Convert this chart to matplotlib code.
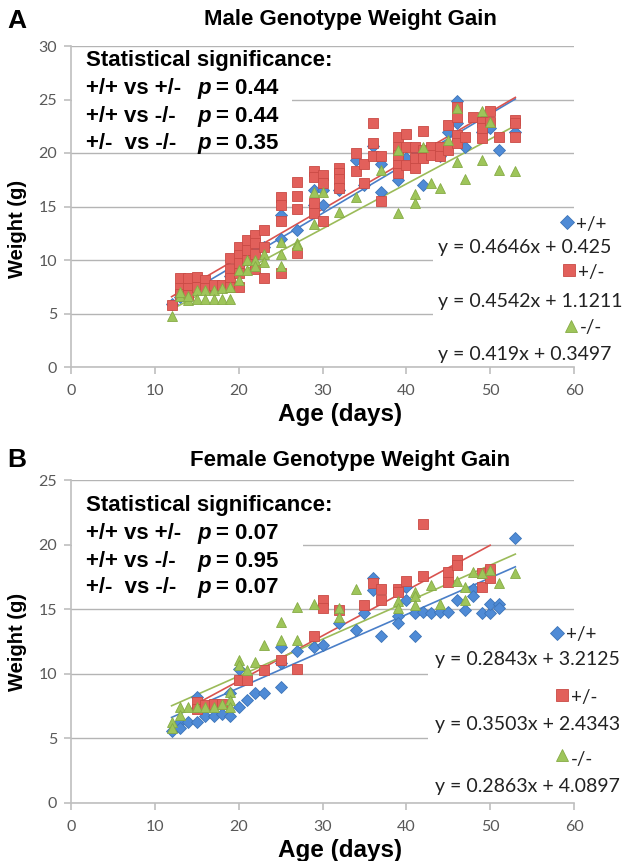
import matplotlib
matplotlib.use('Agg')
import matplotlib.pyplot as plt
from matplotlib.patches import Rectangle
from matplotlib.lines import Line2D

W, H = 629, 861

# ---------------- data ----------------
genotypes = ['+/+', '+/-', '-/-']
comparisons = ['+/+ vs +/-', '+/+ vs -/-', '+/-  vs -/-']
male_p = ['0.44', '0.44', '0.35']
female_p = ['0.07', '0.95', '0.07']

male_slopes = [0.4646, 0.4542, 0.419]
male_intercepts = [0.425, 1.1211, 0.3497]
female_slopes = [0.2843, 0.3503, 0.2863]
female_intercepts = [3.2125, 2.4343, 4.0897]

male_wt = [(12, 5.9), (13, 6.5), (14, 6.8), (15, 7.2), (16, 7.3), (17, 7.3), (18, 7.5),
           (19, 8.5), (20, 9.5), (21, 11.2), (22, 10.8), (23, 11.2), (25, 14.2), (25, 12.0),
           (27, 12.8), (29, 16.5), (29, 15.1), (30, 16.5), (30, 15.1), (32, 16.5), (34, 19.3),
           (35, 17.0), (36, 20.7), (37, 19.0), (37, 16.4), (39, 17.5), (40, 19.5), (41, 20.3),
           (42, 17.0), (44, 19.7), (45, 22.0), (46, 24.9), (46, 22.8), (47, 20.6), (49, 22.0),
           (50, 22.3), (51, 20.3), (53, 22.0)]
male_het = [(12, 5.8), (13, 8.3), (13, 7.4), (13, 6.8), (14, 8.3), (14, 7.4), (14, 6.7),
            (15, 8.4), (15, 7.5), (16, 8.1), (16, 7.4), (17, 7.7), (18, 7.7),
            (19, 10.2), (19, 9.2), (19, 8.3), (19, 7.5), (20, 11.2), (20, 10.5), (20, 9.7),
            (20, 8.8), (20, 7.5), (21, 11.9), (21, 10.9), (21, 10.0), (22, 12.3), (22, 11.6),
            (22, 10.6), (22, 9.2), (23, 12.8), (23, 11.2), (23, 8.3), (25, 15.9), (25, 15.1),
            (25, 13.6), (25, 8.8), (27, 17.3), (27, 16.0), (27, 14.8), (27, 10.7),
            (29, 18.3), (29, 17.8), (29, 15.3), (29, 14.4), (30, 17.9), (30, 17.2), (30, 13.6),
            (32, 18.6), (32, 18.1), (32, 17.6), (32, 16.7), (34, 20.0), (34, 18.3),
            (35, 19.0), (35, 17.2), (36, 22.8), (36, 20.9), (36, 19.7), (37, 19.7), (37, 15.5),
            (39, 21.5), (39, 20.6), (39, 19.8), (39, 18.9), (39, 18.1), (40, 21.8), (40, 20.6),
            (40, 18.9), (41, 20.6), (41, 19.5), (41, 18.6), (42, 22.1), (42, 20.3), (42, 19.5),
            (43, 20.6), (43, 19.8), (44, 20.6), (44, 19.7), (45, 22.6), (45, 20.3),
            (46, 24.3), (46, 23.4), (46, 21.7), (46, 20.9), (47, 21.5), (48, 23.4),
            (49, 22.9), (49, 22.3), (49, 21.4), (50, 23.9), (50, 22.9), (51, 21.5),
            (53, 23.1), (53, 22.8), (53, 21.5)]
male_ko = [(12, 4.8), (13, 6.6), (13, 7.0), (14, 6.3), (14, 6.6), (15, 7.2), (15, 6.4),
           (16, 7.2), (16, 6.4), (17, 7.2), (17, 6.4), (18, 7.4), (18, 6.4), (19, 7.5), (19, 6.4),
           (20, 9.1), (20, 8.1), (21, 10.0), (21, 9.1), (22, 10.0), (22, 9.4), (23, 10.6),
           (23, 9.8), (25, 11.7), (25, 10.6), (25, 9.4), (27, 11.6), (27, 11.4), (29, 16.4),
           (29, 13.4), (30, 16.4), (32, 14.5), (34, 15.9), (37, 18.4), (39, 20.3), (39, 14.4),
           (41, 16.2), (41, 15.3), (42, 20.6), (43, 17.2), (44, 16.7), (45, 21.2), (46, 24.2),
           (46, 19.2), (47, 17.6), (49, 23.9), (49, 19.3), (50, 22.9), (51, 18.4), (53, 18.3)]

female_wt = [(12, 5.6), (13, 6.3), (13, 5.8), (14, 6.3), (15, 8.2), (15, 6.3), (16, 6.7),
             (17, 6.7), (18, 6.9), (19, 8.5), (19, 6.7), (20, 10.4), (20, 7.4), (21, 8.0),
             (22, 8.5), (23, 8.5), (25, 12.1), (25, 10.8), (25, 9.0), (27, 11.8), (29, 12.1),
             (30, 12.2), (32, 13.9), (34, 13.4), (35, 14.7), (36, 17.4), (36, 16.5), (37, 12.9),
             (39, 14.5), (39, 13.9), (40, 16.7), (40, 15.7), (41, 14.7), (41, 12.9), (42, 14.8),
             (43, 14.7), (44, 14.8), (45, 14.8), (46, 15.7), (47, 14.9), (48, 16.6), (48, 16.0),
             (49, 14.7), (50, 14.7), (50, 15.4), (51, 15.4), (51, 15.1), (53, 20.5)]
female_het = [(15, 7.8), (15, 7.3), (16, 7.6), (17, 7.7), (18, 7.7), (20, 9.5), (21, 9.5),
              (23, 10.3), (25, 11.1), (27, 10.4), (29, 12.9), (30, 15.7), (30, 15.1),
              (32, 14.9), (35, 15.3), (36, 17.0), (37, 16.6), (37, 15.7), (39, 16.6), (39, 16.3),
              (40, 17.2), (42, 21.6), (42, 17.6), (45, 17.9), (45, 17.1), (46, 18.8), (46, 18.4),
              (49, 17.8), (49, 16.7), (50, 18.1), (50, 17.4)]
female_ko = [(12, 6.3), (12, 5.8), (13, 7.4), (13, 6.8), (14, 7.4), (15, 7.4), (16, 7.4),
             (17, 7.4), (18, 7.7), (19, 8.6), (19, 8.0), (19, 7.4), (20, 11.1), (20, 10.7),
             (21, 10.3), (22, 10.9), (23, 12.2), (25, 14.0), (25, 12.6), (27, 15.2), (27, 12.6),
             (29, 15.4), (32, 15.1), (32, 14.4), (34, 16.6), (39, 15.6), (39, 15.1), (41, 16.3),
             (41, 16.0), (41, 15.3), (43, 16.9), (44, 15.4), (46, 17.2), (47, 16.7), (47, 15.7),
             (48, 17.9), (49, 17.8), (50, 18.0), (51, 17.0), (53, 17.8)]

# ---------------- style ----------------
face_colors = ['#4f8bd6', '#e2605b', '#9ec55a']
edge_colors = ['#3d74b8', '#c94a45', '#86ab45']
line_colors = ['#4a7fc8', '#d9534f', '#9bbb59']
markers = ['D', 's', '^']
msizes = [6.0, 7.0, 7.5]
GRID = '#b4b4b4'
AXC = '#bfbfbf'
TICKC = '#595959'
BOLD = 'Liberation Sans'
plt.rcParams['font.family'] = ['Lato', 'DejaVu Sans']

fig = plt.figure(figsize=(W / 100, H / 100), dpi=100)


def fxy(px, py):
    return px / W, 1 - py / H


def make_panel(box, ymax, series, slopes, intercepts, title, letter, pvals,
               title_y, letter_y, stats_box, stats_base, legend_box, legend_rows,
               ylabel_y, xlabel_y):
    l, t, r, b = box
    ax = fig.add_axes([l / W, 1 - b / H, (r - l) / W, (b - t) / H])
    ax.set_xlim(0, 60)
    ax.set_ylim(0, ymax)
    ax.set_xticks(range(0, 61, 10))
    ax.set_yticks(range(0, ymax + 1, 5))
    ax.yaxis.grid(True, color=GRID, lw=1.0)
    ax.set_axisbelow(True)
    for s in ['top', 'right']:
        ax.spines[s].set_visible(False)
    for s in ['left', 'bottom']:
        ax.spines[s].set_color(AXC)
        ax.spines[s].set_linewidth(1.2)
    ax.tick_params(axis='both', color=AXC, length=5, width=1.2, labelcolor=TICKC,
                   labelsize=11.5)
    ax.tick_params(axis='x', pad=7)
    ax.tick_params(axis='y', pad=5)

    for i, data in enumerate(series):
        xs = [d[0] for d in data]
        ys = [d[1] for d in data]
        ax.plot(xs, ys, linestyle='none', marker=markers[i], ms=msizes[i],
                mfc=face_colors[i], mec=edge_colors[i], mew=0.6,
                zorder=3 + i * 0.1 if i != 1 else 3.05)
        x0, x1 = min(xs), max(xs)
        ax.plot([x0, x1], [slopes[i] * x0 + intercepts[i], slopes[i] * x1 + intercepts[i]],
                color=line_colors[i], lw=1.2, zorder=2.5)

    # white boxes (stats text box and legend box) hiding gridlines
    for (bx0, by0, bx1, by1) in [stats_box, legend_box]:
        x0f, y1f = fxy(bx0, by1)
        x1f, y0f = fxy(bx1, by0)
        ax.add_patch(Rectangle((x0f, y1f), x1f - x0f, y0f - y1f, transform=fig.transFigure,
                               facecolor='white', edgecolor='none', zorder=1, clip_on=False))

    # titles
    fig.text(*fxy(350, title_y), title, ha='center', va='center', fontsize=16,
             fontweight='bold', family=BOLD)
    fig.text(*fxy(17, letter_y), letter, ha='center', va='center', fontsize=19,
             fontweight='bold', family=BOLD)
    fig.text(*fxy(18, ylabel_y), 'Weight (g)', ha='center', va='center', rotation=90,
             fontsize=14.5, fontweight='bold', family=BOLD)
    fig.text(*fxy(340, xlabel_y), 'Age (days)', ha='center', va='center',
             fontsize=17.5, fontweight='bold', family=BOLD)

    # stats text
    fig.text(*fxy(86, stats_base[0]), 'Statistical significance:', ha='left',
             va='baseline', fontsize=16, fontweight='bold', family=BOLD)
    for k in range(3):
        yb = stats_base[k + 1]
        fig.text(*fxy(86, yb), comparisons[k], ha='left', va='baseline', fontsize=16,
                 fontweight='bold', family=BOLD)
        fig.text(*fxy(197, yb), 'p', ha='left', va='baseline', fontsize=16,
                 fontweight='bold', style='italic', family=BOLD)
        fig.text(*fxy(216, yb), '= ' + pvals[k], ha='left', va='baseline', fontsize=16,
                 fontweight='bold', family=BOLD)

    # legend entries
    for k, (mx, my, lab_base, eq_x, eq_base) in enumerate(legend_rows):
        fig.add_artist(Line2D([mx / W], [1 - my / H], marker=markers[k], ms=msizes[k] + 1,
                              mfc=face_colors[k], mec=edge_colors[k], mew=0.6,
                              linestyle='none', transform=fig.transFigure))
        fig.text(*fxy(mx + 9, lab_base), genotypes[k], ha='left', va='baseline',
                 fontsize=13.5, color='#222222')
        eq = 'y = %gx + %g' % (slopes[k], intercepts[k])
        fig.text(*fxy(eq_x, eq_base), eq, ha='left', va='baseline', fontsize=14,
                 color='#222222')
    return ax


make_panel(box=(71, 46, 574, 367), ymax=30,
           series=[male_wt, male_het, male_ko],
           slopes=male_slopes, intercepts=male_intercepts,
           title='Male Genotype Weight Gain', letter='A', pvals=male_p,
           title_y=20, letter_y=21,
           stats_box=(72, 50, 292, 150), stats_base=[66, 94, 122, 149],
           legend_box=(433, 212, 629, 365),
           legend_rows=[(567, 222, 230, 438, 253), (569, 270, 278, 438, 307),
                        (571, 326, 333, 438, 360)],
           ylabel_y=229, xlabel_y=414)

make_panel(box=(71, 480, 574, 803), ymax=25,
           series=[female_wt, female_het, female_ko],
           slopes=female_slopes, intercepts=female_intercepts,
           title='Female Genotype Weight Gain', letter='B', pvals=female_p,
           title_y=460, letter_y=460,
           stats_box=(72, 488, 303, 598), stats_base=[511, 539, 567, 593],
           legend_box=(428, 612, 629, 801),
           legend_rows=[(557, 633, 640, 435, 665), (562, 695, 703, 435, 730),
                        (562, 755, 765, 435, 792)],
           ylabel_y=642, xlabel_y=851)

fig.savefig('out.png', dpi=100)
